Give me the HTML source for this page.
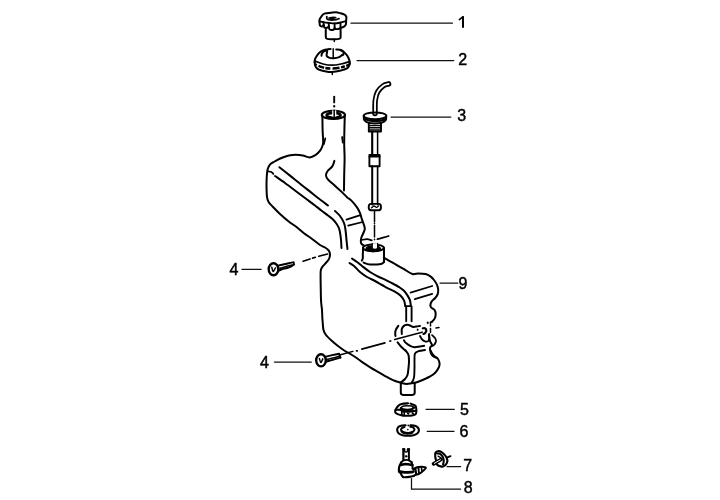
<!DOCTYPE html>
<html><head><meta charset="utf-8"><style>
html,body{margin:0;padding:0;background:#fff;}
body{width:720px;height:500px;overflow:hidden;}
svg{display:block;will-change:transform;}
text{font-family:"Liberation Sans",sans-serif;font-size:16px;fill:#000;stroke:#000;stroke-width:0.45px;}
</style></head><body>
<svg width="720" height="500" viewBox="0 0 720 500">
<rect width="720" height="500" fill="#fff"/>
<g fill="none" stroke="#000" stroke-linecap="round" stroke-linejoin="round">
<line x1="351.0" y1="23.2" x2="452.4" y2="23.2" stroke="#111" stroke-width="1.25"/>
<line x1="357.0" y1="60.5" x2="453.8" y2="60.5" stroke="#111" stroke-width="1.25"/>
<line x1="391.0" y1="117.0" x2="450.8" y2="117.0" stroke="#111" stroke-width="1.25"/>
<line x1="242.0" y1="269.4" x2="261.1" y2="269.4" stroke="#111" stroke-width="1.25"/>
<line x1="274.4" y1="362.1" x2="311.3" y2="362.1" stroke="#111" stroke-width="1.25"/>
<line x1="440.0" y1="283.0" x2="457.8" y2="283.0" stroke="#111" stroke-width="1.25"/>
<line x1="426.0" y1="409.3" x2="454.3" y2="409.3" stroke="#111" stroke-width="1.25"/>
<line x1="427.2" y1="431.3" x2="454.0" y2="431.3" stroke="#111" stroke-width="1.25"/>
<line x1="447.0" y1="466.5" x2="460.6" y2="466.5" stroke="#111" stroke-width="1.25"/>
<line x1="411.5" y1="478.5" x2="411.5" y2="489.0" stroke="#111" stroke-width="1.25"/>
<line x1="411.5" y1="489.0" x2="460.6" y2="489.0" stroke="#111" stroke-width="1.25"/>
<path d="M459.4 19.6L462.8 16.8" stroke-width="1.62" fill="none"/>
<path d="M463.0 16.2L463.0 27.8" stroke-width="2.00" fill="none" stroke-linecap="butt"/>
<path d="M319.6 21.6C319.6 21.2 319.3 20.3 319.6 19.4C319.9 18.5 320.8 17.3 321.5 16.4C322.2 15.5 322.9 14.5 323.6 14.0C324.4 13.5 324.8 13.4 326.0 13.2C327.2 13.0 329.3 12.9 331.0 12.7C332.7 12.5 334.6 12.1 336.1 12.2C337.6 12.3 338.6 12.7 340.0 13.1C341.4 13.5 343.4 14.0 344.5 14.6C345.6 15.2 346.0 15.9 346.3 16.6C346.6 17.3 346.3 18.0 346.3 18.8C346.3 19.6 346.1 20.8 346.1 21.2" stroke-width="2.00" fill="none"/>
<path d="M319.6 21.6C319.6 22.1 319.6 23.8 319.7 24.5C319.8 25.2 320.1 25.7 320.5 26.0C320.9 26.3 321.7 26.5 322.2 26.4C322.7 26.3 323.4 25.4 323.6 25.2" stroke-width="2.00" fill="none"/>
<path d="M323.8 25.2C323.9 25.5 323.8 26.8 324.2 27.2C324.6 27.6 325.4 27.9 326.0 27.9C326.6 27.9 327.5 27.6 328.0 27.3C328.5 27.1 328.7 26.5 328.8 26.4" stroke-width="2.00" fill="none"/>
<path d="M328.9 26.6C329.0 27.0 328.9 28.6 329.4 29.2C329.9 29.8 331.0 30.1 331.8 30.1C332.6 30.1 333.5 29.7 334.0 29.4C334.5 29.1 334.5 28.4 334.6 28.2" stroke-width="2.00" fill="none"/>
<path d="M334.7 28.2C334.8 28.3 334.9 28.8 335.5 28.9C336.1 29.0 337.2 29.2 338.0 29.1C338.8 29.0 340.0 28.4 340.4 28.2" stroke-width="2.00" fill="none"/>
<path d="M340.6 28.0C340.8 27.9 340.9 27.8 341.5 27.6C342.1 27.4 343.3 27.1 344.0 26.6C344.7 26.1 345.4 25.5 345.8 24.6C346.2 23.7 346.1 21.8 346.1 21.2" stroke-width="2.00" fill="none"/>
<path d="M319.6 21.4C320.2 21.5 321.6 21.9 323.2 22.2C324.8 22.5 327.4 22.8 329.4 23.0C331.4 23.2 333.4 23.5 335.2 23.4C337.0 23.3 338.2 23.0 340.0 22.6C341.8 22.2 345.0 21.4 346.0 21.2" stroke-width="1.88" fill="none"/>
<path d="M323.6 22.3L323.6 25.8" stroke-width="1.88" fill="none"/>
<path d="M328.8 23.0L328.8 27.0" stroke-width="1.88" fill="none"/>
<path d="M334.6 23.4L334.6 28.4" stroke-width="1.88" fill="none"/>
<path d="M340.5 22.6L340.5 28.0" stroke-width="1.88" fill="none"/>
<path d="M326.8 16.6C326.8 17.0 326.4 18.2 327.0 18.8C327.6 19.4 328.9 19.9 330.4 20.0C331.9 20.1 334.8 19.8 336.2 19.6C337.6 19.4 338.5 18.8 339.0 18.6" stroke-width="1.75" fill="none"/>
<path d="M329.0 18.0C329.6 17.9 331.7 17.2 332.8 17.2C333.9 17.1 335.3 17.6 335.8 17.7" stroke-width="1.62" fill="none"/>
<ellipse cx="331.8" cy="18.5" rx="2.2" ry="1.0" stroke-width="1.00" fill="#000"/>
<path d="M325.8 29.8C325.8 30.8 325.7 34.5 325.8 36.0C325.9 37.5 325.4 38.1 326.6 38.6C327.8 39.1 330.8 39.2 333.0 39.2C335.2 39.2 338.5 39.1 339.8 38.6C341.1 38.1 340.5 37.6 340.6 36.0C340.7 34.4 340.6 30.3 340.6 29.2" stroke-width="2.00" fill="none"/>
<path d="M334.3 39.2L334.3 41.4" stroke-width="1.50" fill="none"/>
<path d="M314.6 62.5C314.6 62.1 314.6 60.8 314.8 60.0C315.0 59.2 315.1 58.6 315.8 57.5C316.5 56.4 317.6 54.4 318.8 53.2C320.0 52.0 321.5 51.1 323.0 50.5C324.5 49.9 326.5 49.5 327.8 49.3C329.1 49.0 330.1 49.0 330.6 49.0" stroke-width="2.00" fill="none"/>
<path d="M336.2 49.4C337.0 49.5 339.6 49.4 341.0 49.9C342.4 50.4 343.5 51.5 344.6 52.6C345.7 53.7 346.8 54.9 347.6 56.2C348.4 57.5 349.0 59.2 349.4 60.4C349.8 61.6 349.6 63.1 349.7 63.6" stroke-width="2.00" fill="none"/>
<path d="M321.5 55.8C321.6 55.5 321.5 54.5 321.8 53.8C322.1 53.1 322.6 52.2 323.5 51.6C324.4 51.0 326.4 50.5 327.0 50.3" stroke-width="2.00" fill="none"/>
<path d="M340.5 50.3C340.9 50.6 342.7 51.3 343.2 52.0C343.7 52.7 343.7 54.1 343.6 54.6C343.5 55.1 342.7 55.1 342.5 55.2" stroke-width="1.75" fill="none"/>
<path d="M327.2 51.6C327.1 52.3 326.3 54.6 326.6 55.6C326.9 56.6 327.8 57.2 329.0 57.7C330.2 58.2 332.1 58.4 333.8 58.3C335.5 58.2 337.7 57.7 339.2 57.1C340.7 56.5 342.0 55.0 342.6 54.6" stroke-width="2.00" fill="none"/>
<path d="M333.2 48.7L333.2 57.7" stroke-width="1.50" fill="none"/>
<path d="M314.9 61.0C316.2 61.5 320.1 63.3 323.0 64.0C325.9 64.7 329.0 65.2 332.0 65.2C335.0 65.2 338.1 64.6 341.0 64.0C343.9 63.4 348.0 62.0 349.4 61.6" stroke-width="1.75" fill="none"/>
<path d="M315.2 64.4C316.5 64.9 320.2 66.7 323.0 67.4C325.8 68.1 329.0 68.5 332.0 68.5C335.0 68.5 338.1 68.1 341.0 67.4C343.9 66.8 348.0 65.1 349.4 64.6" stroke-width="2.50" fill="none" stroke-linecap="butt" stroke-dasharray="2 1.6 6 1.2 5 2.2 7 1.5 4 1.4 6"/>
<path d="M314.7 62.0C314.8 62.5 314.8 64.2 315.0 65.0C315.2 65.8 315.2 66.2 315.8 67.0C316.4 67.8 317.1 68.9 318.8 69.6C320.5 70.3 323.8 71.0 326.0 71.4C328.2 71.8 329.7 72.0 332.0 71.9C334.3 71.8 337.3 71.4 339.8 70.8C342.3 70.2 345.4 69.4 347.0 68.4C348.6 67.4 349.2 65.6 349.6 64.6C350.1 63.6 349.7 62.9 349.7 62.5" stroke-width="2.00" fill="none"/>
<path d="M332.3 71.8L332.3 74.4" stroke-width="1.50" fill="none"/>
<path d="M334.2 96.6L334.2 102.4" stroke-width="1.88" fill="none"/>
<path d="M334.2 106.0L334.2 106.4" stroke-width="2.12" fill="none"/>
<ellipse cx="333.4" cy="114.9" rx="11.6" ry="4.1" stroke-width="2.12" fill="none"/>
<ellipse cx="333.6" cy="115.3" rx="6.9" ry="2.5" stroke-width="2.75" fill="none"/>
<path d="M328.0 117.0C328.9 117.2 331.7 118.0 333.5 118.0C335.3 118.0 338.1 117.2 339.0 117.0" stroke-width="2.00" fill="none"/>
<path d="M332.2 110.4L332.2 116.6L336.2 116.6L336.2 110.4Z" stroke-width="0.12" fill="#fff" stroke="#fff"/>
<path d="M334.2 110.2L334.2 116.8" stroke-width="1.50" fill="none"/>
<path d="M322.4 115.5C322.4 117.9 322.5 125.7 322.6 130.0C322.7 134.3 323.2 138.6 323.2 141.2C323.2 143.8 323.1 143.9 322.6 145.5C322.1 147.1 321.3 149.0 320.1 150.6C318.9 152.2 317.0 154.0 315.3 155.2C313.6 156.3 311.8 157.4 309.7 157.5C307.6 157.6 305.1 156.0 302.8 155.5C300.5 155.0 298.1 154.7 295.8 154.7C293.5 154.7 291.2 154.9 288.9 155.4C286.6 155.9 284.0 157.0 282.0 157.8C280.0 158.6 278.5 159.4 277.0 160.2C275.5 161.0 274.2 161.6 273.0 162.4C271.8 163.2 270.7 163.7 269.8 164.8C268.9 165.9 268.3 167.3 267.8 168.8C267.3 170.3 267.2 171.7 267.0 173.6C266.8 175.5 266.7 177.3 266.6 180.0C266.5 182.7 266.5 187.1 266.6 190.0C266.7 192.9 266.7 195.2 267.0 197.2C267.3 199.2 267.6 200.4 268.6 202.0C269.6 203.6 270.9 204.8 272.8 206.8C274.7 208.8 277.4 211.6 280.0 214.0C282.6 216.4 285.6 219.0 288.4 221.2C291.2 223.4 294.2 225.2 296.8 227.2C299.4 229.2 301.4 231.2 304.0 233.2C306.6 235.2 309.7 237.2 312.4 239.2C315.1 241.2 317.9 243.6 320.0 245.0C322.1 246.4 323.5 246.6 325.0 247.5C326.5 248.4 328.0 249.4 328.8 250.6C329.6 251.8 330.0 252.9 330.0 254.4C330.0 255.9 329.6 257.8 328.8 259.4C328.0 261.0 326.1 262.4 325.0 263.8C323.9 265.2 322.6 266.3 321.9 267.5C321.2 268.7 320.9 268.9 320.7 271.0C320.5 273.1 320.6 275.2 320.6 280.0C320.7 284.8 320.8 295.0 321.0 300.0C321.2 305.0 321.8 306.7 322.0 310.0C322.2 313.3 322.2 316.7 322.5 320.0C322.8 323.3 322.9 327.5 323.5 330.0C324.1 332.5 324.6 333.2 326.0 335.0C327.4 336.8 330.0 339.2 332.0 341.0C334.0 342.8 335.8 344.3 338.0 346.0C340.2 347.7 342.7 349.5 345.0 351.0C347.3 352.5 349.8 353.7 352.0 355.0C354.2 356.3 356.3 357.8 358.0 359.0C359.7 360.2 360.1 360.8 362.2 362.2C364.3 363.6 367.8 365.9 370.6 367.6C373.4 369.3 376.2 370.8 379.0 372.4C381.8 374.0 384.8 375.8 387.4 377.2C390.0 378.6 392.4 379.9 394.6 380.8C396.8 381.7 399.6 382.3 400.6 382.6" stroke-width="2.00" fill="none"/>
<path d="M344.8 115.5C344.7 117.9 344.5 125.2 344.4 130.0C344.3 134.8 344.2 139.3 344.2 144.0C344.2 148.7 344.6 152.8 344.6 158.0C344.6 163.2 344.3 169.6 344.2 175.0C344.1 180.4 344.0 187.9 344.0 190.5" stroke-width="2.00" fill="none"/>
<path d="M325.3 138.4L323.9 144.0" stroke-width="1.75" fill="none"/>
<path d="M342.1 137.0L342.8 142.6" stroke-width="1.75" fill="none"/>
<path d="M334.4 160.8C334.0 161.7 333.5 164.7 332.3 166.4C331.1 168.2 328.4 169.8 327.4 171.3C326.3 172.8 325.9 174.1 326.0 175.5C326.1 176.9 326.7 178.1 328.1 179.7C329.5 181.3 332.2 183.3 334.4 185.3C336.6 187.3 339.3 189.6 341.4 191.6C343.5 193.6 345.4 195.7 347.0 197.2C348.6 198.7 349.5 198.7 351.2 200.4C352.9 202.1 355.7 205.4 357.2 207.6C358.7 209.8 359.4 211.6 360.2 213.6C361.0 215.6 361.3 217.6 362.0 219.6C362.7 221.6 363.7 224.0 364.2 225.6C364.7 227.2 364.9 228.0 364.8 229.2C364.7 230.4 364.0 231.6 363.4 233.0C362.8 234.4 361.8 236.2 361.4 237.6C361.0 239.0 360.8 240.5 360.8 241.6C360.8 242.7 361.1 243.4 361.6 244.0C362.1 244.6 363.4 245.2 363.8 245.4" stroke-width="2.00" fill="none"/>
<path d="M267.8 171.2C268.4 171.3 270.5 171.5 271.4 172.0C272.3 172.5 273.1 173.7 273.4 174.0" stroke-width="1.75" fill="none"/>
<path d="M279.4 167.2C281.2 168.6 286.4 172.7 290.0 175.6C293.6 178.5 297.2 181.3 301.0 184.4C304.8 187.5 309.7 191.3 313.0 194.0C316.3 196.7 318.5 198.4 321.0 200.3C323.5 202.2 326.8 204.6 328.0 205.5" stroke-width="2.00" fill="none"/>
<path d="M275.0 176.0C276.7 177.2 281.7 180.6 285.0 183.0C288.3 185.4 291.7 188.0 295.0 190.5C298.3 193.0 301.7 195.5 305.0 198.0C308.3 200.5 312.2 203.3 315.0 205.5C317.8 207.7 319.8 209.3 322.0 211.0C324.2 212.7 326.2 214.1 328.0 215.5C329.8 216.9 331.5 218.0 333.0 219.5C334.5 221.0 335.9 222.8 337.0 224.5C338.1 226.2 338.8 227.4 339.5 230.0C340.2 232.6 340.7 237.0 341.0 240.0C341.3 243.0 341.4 246.7 341.5 248.0" stroke-width="2.00" fill="none"/>
<path d="M335.0 211.0C335.8 211.8 338.5 214.0 340.0 216.0C341.5 218.0 343.1 220.7 344.0 223.0C344.9 225.3 345.1 227.2 345.5 230.0C345.9 232.8 346.2 236.8 346.5 240.0C346.8 243.2 347.3 247.5 347.5 249.0" stroke-width="2.00" fill="none"/>
<path d="M346.4 219.6L359.6 215.4" stroke-width="1.75" fill="none"/>
<path d="M348.2 225.6L362.6 222.0" stroke-width="1.75" fill="none"/>
<path d="M375.0 113.5C375.1 111.2 374.8 103.7 375.3 100.0C375.8 96.3 376.4 94.0 377.8 91.6C379.2 89.2 381.8 86.9 383.6 85.6C385.4 84.3 387.8 84.2 388.6 83.9" stroke-width="5.38" fill="none"/>
<path d="M375.0 113.5C375.1 111.2 374.8 103.7 375.3 100.0C375.8 96.3 376.4 94.0 377.8 91.6C379.2 89.2 381.8 86.9 383.6 85.6C385.4 84.3 387.8 84.2 388.6 83.9" stroke-width="1.88" fill="none" stroke="#fff"/>
<ellipse cx="375.0" cy="115.8" rx="11.3" ry="3.4" stroke-width="2.00" fill="none"/>
<path d="M363.8 116.0C363.9 116.7 363.5 118.9 364.2 120.0C364.9 121.1 366.2 122.0 368.0 122.6C369.8 123.2 372.7 123.4 375.0 123.4C377.3 123.4 380.2 123.2 382.0 122.6C383.8 122.0 385.1 121.1 385.8 120.0C386.5 118.9 386.1 116.7 386.2 116.0" stroke-width="2.00" fill="none"/>
<path d="M365.0 119.2C365.8 119.4 368.2 120.3 370.0 120.6C371.8 120.9 374.0 121.0 376.0 121.0C378.0 121.0 380.4 120.7 382.0 120.4C383.6 120.1 384.9 119.2 385.5 119.0" stroke-width="2.25" fill="none"/>
<path d="M368.8 123.2L368.8 131.6L381.0 131.6L381.0 123.2" stroke-width="1.88" fill="none"/>
<path d="M369.5 125.6L380.5 125.6" stroke-width="1.38" fill="none"/>
<path d="M369.5 127.8L380.5 127.8" stroke-width="1.38" fill="none"/>
<path d="M369.5 130.0L380.5 130.0" stroke-width="1.38" fill="none"/>
<path d="M372.2 131.6L372.2 154.6" stroke-width="2.12" fill="none"/>
<path d="M377.6 131.6L377.6 154.6" stroke-width="1.50" fill="none"/>
<path d="M369.4 155.0L379.6 155.0L379.6 166.3L369.4 166.3Z" stroke-width="1.88" fill="none"/>
<path d="M369.4 156.6L379.6 156.6" stroke-width="1.88" fill="none"/>
<path d="M372.2 166.3L372.2 204.6" stroke-width="2.00" fill="none"/>
<path d="M377.6 166.3L377.6 204.6" stroke-width="1.62" fill="none"/>
<path d="M371 203.9L378.8 203.9Q381 203.9 381 207L381 207.2Q381 210.2 378.8 210.2L371 210.2Q368.7 210.2 368.7 207.2L368.7 207Q368.7 203.9 371 203.9Z" stroke-width="1.88" fill="none"/>
<path d="M371.5 207.8C371.9 207.5 373.2 206.1 374.0 206.0C374.8 205.9 375.8 207.4 376.5 207.4C377.2 207.4 378.2 206.2 378.5 206.0" stroke-width="1.38" fill="none"/>
<path d="M374.5 211.0L374.5 222.0" stroke-width="1.50" fill="none"/>
<path d="M374.5 223.5L374.5 223.8" stroke-width="1.62" fill="none"/>
<path d="M374.5 225.6L374.5 237.0" stroke-width="1.50" fill="none"/>
<path d="M374.5 239.3L374.5 239.6" stroke-width="1.62" fill="none"/>
<path d="M361.4 240.0C362.3 239.9 365.3 239.1 367.0 239.2C368.7 239.3 371.0 240.2 371.8 240.4" stroke-width="1.75" fill="none"/>
<path d="M377.4 239.2C378.3 238.9 381.1 238.1 383.0 237.6C384.9 237.1 387.7 236.3 388.6 236.0" stroke-width="1.75" fill="none"/>
<ellipse cx="373.4" cy="247.8" rx="10.4" ry="3.4" stroke-width="2.00" fill="none"/>
<ellipse cx="373.2" cy="248.8" rx="7.2" ry="2.7" stroke-width="1.25" fill="#000"/>
<path d="M372.2 243.4L372.2 248.6Q374.9 250.2 377.6 248.6L377.6 243.4" stroke-width="1.25" fill="#fff"/>
<path d="M363.0 248.0C363.0 249.2 362.9 253.2 362.8 255.0C362.8 256.8 362.9 257.9 362.7 258.8C362.5 259.7 361.9 260.3 361.8 260.6" stroke-width="2.00" fill="none"/>
<path d="M363.6 262.6C364.7 262.9 367.1 264.3 370.0 264.5C372.9 264.7 378.7 264.4 381.0 264.0C383.3 263.6 383.5 262.3 384.0 262.0" stroke-width="2.00" fill="none"/>
<path d="M384.0 248.0L384.0 262.0" stroke-width="2.00" fill="none"/>
<path d="M383.8 257.6C384.4 257.9 385.2 258.5 387.2 259.6C389.2 260.7 392.8 262.8 395.6 264.4C398.4 266.0 401.2 267.6 404.0 269.2C406.8 270.8 410.0 273.3 412.4 274.0C414.8 274.7 416.2 273.4 418.4 273.4C420.6 273.4 423.6 273.5 425.6 274.0C427.6 274.5 429.0 275.4 430.4 276.4C431.8 277.4 432.9 278.6 434.0 280.0C435.1 281.4 436.3 283.2 437.0 284.8C437.7 286.4 438.1 288.0 438.2 289.6C438.3 291.2 438.1 293.0 437.6 294.4C437.1 295.8 436.2 296.8 435.2 298.0C434.2 299.2 432.4 300.4 431.6 301.6C430.8 302.8 430.4 304.2 430.4 305.2C430.3 306.2 430.6 306.9 431.3 307.7C432.0 308.5 433.9 308.9 434.6 310.0C435.3 311.1 435.7 312.9 435.7 314.3C435.7 315.8 435.2 317.4 434.6 318.7C434.0 320.0 432.3 321.4 431.8 322.0" stroke-width="2.00" fill="none"/>
<path d="M429.0 335.0C429.2 336.0 429.5 339.3 430.0 341.0C430.5 342.7 432.0 343.8 432.0 345.0C432.0 346.2 430.2 346.8 430.0 348.0C429.8 349.2 430.2 350.8 430.5 352.0C430.8 353.2 431.2 354.2 432.0 355.0C432.8 355.8 434.0 356.3 435.0 357.0C436.0 357.7 437.2 358.0 438.0 359.0C438.8 360.0 439.3 361.7 439.5 363.0C439.7 364.3 439.8 365.3 439.0 367.0C438.2 368.7 436.7 371.3 435.0 373.0C433.3 374.7 431.2 375.8 429.0 377.0C426.8 378.2 424.3 379.4 422.0 380.3C419.7 381.2 416.9 382.2 415.2 382.7C413.5 383.2 413.2 383.0 411.8 383.2C410.4 383.4 408.4 383.9 406.6 383.9C404.8 383.9 401.8 383.1 400.8 383.0" stroke-width="2.00" fill="none"/>
<path d="M432.0 335.0C432.5 335.5 434.3 337.0 435.0 338.0C435.7 339.0 436.2 339.8 436.0 341.0C435.8 342.2 434.7 344.2 434.0 345.0C433.3 345.8 432.3 345.8 432.0 346.0" stroke-width="1.75" fill="none"/>
<path d="M352.0 258.5C352.8 259.1 355.3 260.8 357.0 262.0C358.7 263.2 359.8 264.3 362.0 266.0C364.2 267.7 367.3 270.2 370.0 272.0C372.7 273.8 375.7 275.3 378.0 276.5C380.3 277.7 381.7 278.1 384.0 279.2C386.3 280.3 389.5 281.9 392.0 283.2C394.5 284.5 397.2 285.9 399.2 287.2C401.2 288.5 402.6 289.4 404.0 290.8C405.4 292.2 406.6 294.0 407.6 295.6C408.6 297.2 409.5 298.8 410.0 300.4C410.5 302.0 410.7 304.6 410.8 305.5" stroke-width="2.00" fill="none"/>
<path d="M349.5 263.0C350.2 263.5 352.2 264.5 354.0 266.0C355.8 267.5 357.8 270.2 360.0 272.0C362.2 273.8 364.5 275.5 367.0 277.0C369.5 278.5 372.5 279.7 375.0 281.0C377.5 282.3 379.8 283.8 382.0 285.0C384.2 286.2 385.9 287.2 388.0 288.3C390.1 289.4 392.3 290.2 394.4 291.4C396.5 292.6 398.8 294.1 400.4 295.6C402.0 297.1 403.2 298.8 404.0 300.4C404.8 302.0 405.0 304.6 405.2 305.5" stroke-width="2.00" fill="none"/>
<path d="M405.0 306.0L411.0 306.0" stroke-width="1.75" fill="none"/>
<path d="M406.2 306.5L406.2 321.3" stroke-width="1.88" fill="none"/>
<path d="M411.6 306.5L411.6 321.3" stroke-width="1.88" fill="none"/>
<path d="M410.6 292.6L432.2 286.0" stroke-width="1.75" fill="none"/>
<path d="M414.8 299.2L432.2 293.8" stroke-width="1.75" fill="none"/>
<path d="M398.3 325.9C397.9 326.5 396.4 328.5 395.9 329.7C395.4 330.9 395.3 332.1 395.2 333.2C395.1 334.2 395.4 335.5 395.5 336.0" stroke-width="2.00" fill="none"/>
<path d="M401.8 333.9C401.8 333.1 401.5 330.3 401.8 329.0C402.1 327.7 403.0 326.6 403.9 325.9C404.8 325.2 406.2 324.8 407.4 324.8C408.6 324.8 410.0 325.5 410.9 325.9C411.8 326.2 412.1 326.8 413.0 326.9C413.9 327.0 415.3 326.8 416.5 326.6C417.7 326.4 419.4 326.0 420.0 325.9" stroke-width="2.00" fill="none"/>
<path d="M422.8 328.3C423.1 328.3 424.3 328.0 424.9 328.3C425.5 328.6 426.3 329.6 426.3 330.4C426.3 331.2 425.4 332.6 424.9 333.2C424.4 333.8 423.7 333.8 423.5 333.9" stroke-width="2.25" fill="none"/>
<path d="M420.0 336.0C420.4 336.6 421.2 338.6 422.1 339.5C423.0 340.4 424.6 341.4 425.6 341.6C426.7 341.8 427.8 341.5 428.4 340.9C429.0 340.3 429.0 339.3 429.1 338.1C429.2 336.9 429.1 334.6 429.1 333.9" stroke-width="1.88" fill="none"/>
<path d="M427.7 322.5L427.8 323.0" stroke-width="2.00" fill="none"/>
<path d="M417.6 329.6L417.7 329.8" stroke-width="1.88" fill="none"/>
<path d="M431 350.5Q432.5 355.5 437.6 357.8Q433.5 358 431.6 355Z" stroke-width="1.25" fill="#000"/>
<path d="M430.5 322.0L430.5 326.0" stroke-width="1.50" fill="none"/>
<path d="M430.5 328.5L430.5 332.5" stroke-width="1.50" fill="none"/>
<path d="M397.6 342.3C398.1 342.9 399.5 344.8 400.4 345.8C401.3 346.9 402.3 347.7 403.2 348.6C404.1 349.5 405.1 349.9 406.0 351.0C406.9 352.1 408.0 353.3 408.5 355.0C409.0 356.7 409.0 358.8 409.0 361.0C409.0 363.2 408.8 365.7 408.5 368.0C408.2 370.3 408.1 373.2 407.5 375.0C406.9 376.8 406.1 377.7 405.0 379.0C403.9 380.3 401.3 382.0 400.6 382.6" stroke-width="2.00" fill="none"/>
<path d="M403.9 340.2C404.2 340.7 404.9 342.1 406.0 343.0C407.1 343.9 408.8 345.1 410.2 345.8C411.6 346.5 412.8 347.1 414.4 347.2C416.0 347.3 418.4 346.7 420.0 346.5C421.6 346.3 423.5 345.9 424.2 345.8" stroke-width="1.88" fill="none"/>
<path d="M425.0 350.0C424.0 350.2 420.7 350.4 419.0 351.0C417.3 351.6 415.8 352.0 415.0 353.5C414.2 355.0 414.6 357.6 414.5 360.0C414.4 362.4 414.6 365.3 414.5 368.0C414.4 370.7 414.4 374.0 414.2 376.0C414.0 378.0 413.7 378.8 413.3 379.8C412.9 380.8 412.1 381.8 411.8 382.2" stroke-width="1.88" fill="none"/>
<path d="M420.0 335.2C420.3 335.7 421.2 337.1 422.0 338.0C422.8 338.9 423.8 340.0 425.0 340.5C426.2 341.0 428.3 340.9 429.0 341.0" stroke-width="1.25" fill="none" stroke-opacity="0"/>
<path d="M400.8 383L400.8 392.6Q400.8 394.9 403.1 394.9L412.4 394.9Q414.7 394.9 414.7 392.6L414.7 382.7" stroke-width="2.00" fill="none"/>
<ellipse cx="273.5" cy="269.2" rx="4.8" ry="6.0" stroke-width="2.38" fill="none"/>
<path d="M271.8 267.2C272.0 267.9 272.6 271.5 273.2 271.6C273.8 271.7 275.0 268.4 275.4 267.8" stroke-width="1.50" fill="none"/>
<path d="M278.3 265.6C279.5 265.3 283.3 264.5 285.5 264.0C287.7 263.5 290.1 262.9 291.5 262.6C292.9 262.3 293.2 262.4 293.6 262.4" stroke-width="1.88" fill="none"/>
<path d="M278.6 270.6C279.5 270.3 282.3 269.1 284.0 268.6C285.7 268.1 287.3 268.1 289.0 267.4C290.7 266.7 293.2 265.0 294.0 264.5" stroke-width="2.00" fill="none"/>
<path d="M280.0 268.4C281.0 268.1 284.0 267.2 286.0 266.6C288.0 266.0 291.0 265.3 292.0 265.0" stroke-width="1.62" fill="none"/>
<path d="M293.6 262.4L294.0 264.5" stroke-width="1.62" fill="none"/>
<ellipse cx="321.0" cy="360.3" rx="4.8" ry="6.1" stroke-width="2.38" fill="none"/>
<path d="M319.4 358.4C319.6 359.1 320.2 362.5 320.8 362.6C321.4 362.7 322.5 359.4 322.8 358.8" stroke-width="1.50" fill="none"/>
<path d="M325.8 356.6C326.8 356.4 329.8 355.7 332.0 355.2C334.2 354.7 337.9 354.0 339.1 353.8" stroke-width="1.88" fill="none"/>
<path d="M325.9 361.7C327.0 361.4 330.4 360.6 332.8 359.9C335.2 359.2 339.2 357.9 340.5 357.5" stroke-width="2.00" fill="none"/>
<path d="M327.0 359.6C328.0 359.3 330.8 358.6 333.0 358.0C335.2 357.4 338.8 356.3 340.0 356.0" stroke-width="1.62" fill="none"/>
<path d="M339.1 353.8L340.5 357.5" stroke-width="1.62" fill="none"/>
<path d="M303.1 261.3L310.0 258.9" stroke-width="1.62" fill="none"/>
<path d="M312.6 258.1L315.4 257.3" stroke-width="1.62" fill="none"/>
<path d="M318.8 256.3L327.6 254.0" stroke-width="1.62" fill="none"/>
<path d="M340.5 354.8L352.9 351.4" stroke-width="1.50" fill="none"/>
<path d="M356.6 350.9L357.2 350.8" stroke-width="1.75" fill="none"/>
<path d="M361.8 349.1L384.9 342.9" stroke-width="1.62" fill="none"/>
<path d="M390.0 341.2L390.6 341.0" stroke-width="1.75" fill="none"/>
<path d="M394.7 339.5L422.1 332.2" stroke-width="1.62" fill="none"/>
<path d="M436.0 328.0L439.0 327.5" stroke-width="1.50" fill="none"/>
<path d="M395.4 410.2C395.8 409.6 396.6 407.4 397.6 406.4C398.6 405.4 399.9 404.6 401.6 404.1C403.3 403.6 406.9 403.4 408.0 403.3" stroke-width="2.12" fill="none"/>
<path d="M410.5 403.6C411.3 403.9 414.2 404.8 415.2 405.6C416.1 406.4 416.0 407.2 416.2 408.2C416.4 409.2 416.5 410.5 416.4 411.5C416.3 412.5 416.3 413.5 415.6 414.2C414.9 414.9 413.4 415.2 412.0 415.5C410.6 415.8 408.6 415.8 407.0 415.8C405.4 415.8 404.0 415.9 402.4 415.6C400.8 415.3 398.8 414.7 397.6 414.2C396.4 413.7 395.7 413.3 395.3 412.6C394.9 411.9 395.4 410.6 395.4 410.2" stroke-width="2.00" fill="none"/>
<path d="M400.8 408.2C401.1 407.9 401.6 406.8 402.6 406.4C403.6 406.0 405.5 405.9 407.0 405.8C408.5 405.8 410.6 405.8 411.8 406.1C413.0 406.4 413.6 407.4 414.0 407.6" stroke-width="1.50" fill="none"/>
<path d="M400.8 408.2C401.2 408.4 401.9 409.1 403.0 409.4C404.1 409.7 405.8 409.9 407.2 409.9C408.6 409.9 410.5 409.8 411.6 409.4C412.7 409.0 413.6 407.9 414.0 407.6" stroke-width="2.38" fill="none"/>
<path d="M396.0 409.9C396.4 409.9 397.5 409.8 398.5 409.8C399.5 409.9 401.2 410.1 401.8 410.2" stroke-width="1.88" fill="none"/>
<path d="M402.5 411.1C402.8 411.2 403.0 411.3 404.2 411.4C405.4 411.5 407.5 411.7 409.5 411.6C411.5 411.5 414.9 410.9 416.0 410.8" stroke-width="2.12" fill="none"/>
<path d="M401.8 410.2L401.8 415.4" stroke-width="1.75" fill="none"/>
<path d="M404.2 411.6L404.2 415.6" stroke-width="1.62" fill="none"/>
<path d="M407.8 413.4L408.6 413.8" stroke-width="1.75" fill="none"/>
<path d="M412.4 413.0L413.2 413.6" stroke-width="1.75" fill="none"/>
<path d="M405.6 425.3C404.8 425.4 402.3 425.5 401.0 425.8C399.7 426.1 398.6 426.7 398.0 427.4C397.4 428.1 397.1 429.2 397.2 430.2C397.3 431.2 397.6 432.4 398.5 433.2C399.4 434.0 400.9 434.8 402.5 435.2C404.1 435.6 406.2 435.8 408.0 435.8C409.8 435.8 411.9 435.6 413.5 435.2C415.1 434.8 416.7 434.0 417.6 433.2C418.5 432.4 418.9 431.2 418.9 430.2C418.9 429.2 418.5 428.1 417.8 427.4C417.1 426.7 416.0 426.1 414.8 425.8C413.6 425.5 411.1 425.4 410.4 425.3" stroke-width="2.12" fill="none"/>
<path d="M404.5 427.1C404.0 427.3 402.2 427.8 401.6 428.3C401.1 428.9 400.7 429.7 401.2 430.4C401.7 431.1 403.2 432.1 404.5 432.5C405.8 432.9 407.3 433.0 408.7 432.9C410.1 432.8 411.8 432.2 412.8 431.7C413.8 431.1 414.4 430.3 414.5 429.6C414.6 428.9 413.9 428.0 413.2 427.5C412.5 427.0 410.8 426.8 410.3 426.7" stroke-width="2.00" fill="none"/>
<path d="M401.5 431.5C402.0 431.8 403.3 432.8 404.5 433.2C405.7 433.6 407.4 433.7 408.7 433.6C410.0 433.5 411.9 432.8 412.5 432.6" stroke-width="2.00" fill="none"/>
<path d="M408.2 425.3L408.3 425.6" stroke-width="1.62" fill="none"/>
<path d="M407.8 429.5L407.9 429.7" stroke-width="1.50" fill="none"/>
<path d="M403.4 449.2L403.4 460.2" stroke-width="2.25" fill="none"/>
<path d="M408.9 449.2L408.9 460.2" stroke-width="2.00" fill="none"/>
<path d="M402.9 449.0L404.5 449.0" stroke-width="1.75" fill="none"/>
<path d="M407.7 449.0L409.3 449.0" stroke-width="1.75" fill="none"/>
<path d="M404.5 449.2C404.6 449.6 404.6 450.9 404.8 451.4C405.1 451.9 405.6 452.1 406.0 452.1C406.4 452.1 407.1 451.9 407.4 451.4C407.7 450.9 407.6 449.6 407.7 449.2" stroke-width="1.50" fill="none"/>
<ellipse cx="406.1" cy="456.3" rx="0.9" ry="0.9" stroke-width="0.75" fill="#000"/>
<path d="M400.8 462.6C401.3 462.2 402.4 460.8 403.6 460.4C404.8 460.0 406.8 459.8 408.2 460.1C409.6 460.4 411.2 461.9 411.8 462.2" stroke-width="1.88" fill="none"/>
<path d="M400.4 465.0C401.0 464.9 402.7 464.3 404.0 464.2C405.3 464.1 406.6 464.2 408.0 464.3C409.4 464.4 411.7 464.9 412.4 465.0" stroke-width="2.62" fill="none"/>
<path d="M401.4 462.3C401.1 462.9 400.0 464.6 399.6 465.7C399.2 466.8 399.0 468.1 398.9 469.0C398.8 469.9 398.8 470.6 399.1 471.3C399.4 472.0 400.3 472.6 400.8 473.4C401.3 474.2 401.6 475.3 402.1 475.9C402.6 476.5 402.6 477.0 403.8 477.2C405.1 477.4 407.9 477.1 409.6 476.9C411.3 476.7 413.1 476.1 413.8 475.9" stroke-width="2.12" fill="none"/>
<path d="M411.6 462.4C411.7 462.8 412.2 464.0 412.4 465.0C412.6 466.0 412.6 468.0 412.6 468.6" stroke-width="2.00" fill="none"/>
<path d="M399.2 471.4C400.2 471.6 403.0 472.3 405.0 472.4C407.0 472.5 409.6 472.3 411.0 472.2C412.4 472.1 413.0 471.6 413.4 471.5" stroke-width="2.75" fill="none"/>
<path d="M412.6 468.6L413.8 469.2" stroke-width="1.75" fill="none"/>
<path d="M413.6 469.2C414.2 468.9 415.7 467.6 417.1 467.2C418.5 466.8 420.3 466.6 421.8 466.7C423.3 466.8 425.6 467.0 425.9 467.6C426.2 468.2 424.5 469.6 423.4 470.6C422.3 471.7 420.4 473.2 419.1 473.9C417.8 474.6 416.5 474.5 415.6 474.8C414.7 475.1 414.1 475.7 413.8 475.9" stroke-width="2.00" fill="none"/>
<path d="M415.4 469.0L416.2 474.4" stroke-width="2.12" fill="none"/>
<path d="M418.4 467.6L419.0 473.4" stroke-width="1.88" fill="none"/>
<path d="M421.4 467.1L421.9 471.3" stroke-width="1.62" fill="none"/>
<path d="M435.9 459.9C435.8 459.4 435.4 458.0 435.3 456.8C435.2 455.6 434.9 453.6 435.5 452.6C436.1 451.7 437.7 451.2 438.6 451.1C439.6 451.0 440.2 451.3 441.2 451.9C442.1 452.5 443.4 453.6 444.3 454.5C445.2 455.4 446.0 456.5 446.5 457.6C447.0 458.7 447.5 460.1 447.4 461.2C447.3 462.3 446.7 463.4 446.0 464.3C445.3 465.2 444.1 466.1 443.0 466.4C441.9 466.7 440.5 466.5 439.5 466.1C438.5 465.8 437.2 464.6 436.8 464.3" stroke-width="2.12" fill="none"/>
<path d="M437.0 453.6C437.5 453.6 439.1 453.3 440.0 453.8C440.9 454.3 442.0 455.5 442.6 456.6C443.2 457.7 443.7 459.3 443.8 460.6C443.9 461.9 443.1 463.8 443.0 464.4" stroke-width="2.00" fill="none"/>
<path d="M438.2 456.2C438.6 456.4 439.9 456.9 440.4 457.6C440.9 458.3 441.2 459.8 441.4 460.2" stroke-width="1.50" fill="none"/>
<path d="M433.6 463.9L441.0 459.5" stroke-width="3.75" fill="none"/>
<path d="M434.3 463.4L440.4 459.8" stroke-width="1.00" fill="none" stroke="#fff"/>
<path d="M447.4 457.3L450.5 456.1" stroke-width="1.88" fill="none"/>
</g>
<text x="458.2" y="65.0">2</text>
<text x="457.2" y="120.8">3</text>
<text x="229.4" y="274.8">4</text>
<text x="260.1" y="367.8">4</text>
<text x="458.6" y="289.4">9</text>
<text x="460.0" y="415.0">5</text>
<text x="459.5" y="437.0">6</text>
<text x="463.3" y="470.6">7</text>
<text x="463.8" y="492.7">8</text>
</svg>
</body></html>
